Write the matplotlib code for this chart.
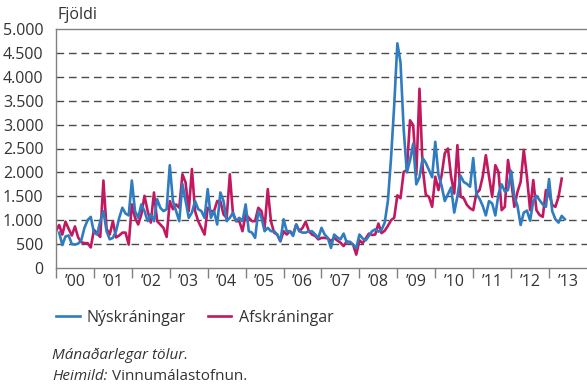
import numpy as np
import matplotlib.pyplot as plt

plt.rcParams['font.family'] = ['Open Sans', 'DejaVu Sans']

# Monthly counts. Afskráningar starts Jan 2000, Nýskráningar starts Feb 2000
afskraningar = [
    770, 900, 700, 970, 820, 680, 870, 640, 540, 520, 520, 430,          # 2000
    800, 720, 650, 1830, 820, 700, 980, 640, 680, 740, 740, 490,         # 2001
    1330, 1050, 910, 1120, 1510, 1190, 950, 1580, 980, 910, 840, 650,    # 2002
    1400, 1230, 1330, 1260, 1960, 1790, 1190, 2070, 1190, 980, 840, 700, # 2003
    1260, 1190, 1190, 1400, 1400, 1120, 1050, 1960, 1120, 980, 980, 770, # 2004
    1120, 1050, 980, 980, 1260, 1190, 840, 1650, 980, 740, 700, 560,     # 2005
    770, 700, 770, 700, 910, 770, 840, 970, 770, 700, 670, 600,          # 2006
    630, 630, 620, 560, 630, 575, 530, 460, 560, 530, 490, 280,          # 2007
    580, 520, 620, 720, 690, 700, 930, 730, 780, 880, 1000, 1050,        # 2008
    1520, 1460, 2010, 2050, 3090, 2990, 1950, 3750, 2100, 1530, 1490, 1280,  # 2009
    1910, 1630, 1940, 2400, 2500, 1910, 1560, 2570, 1490, 1460, 1320, 1250,  # 2010
    1210, 1560, 1630, 1910, 2360, 1910, 1490, 2150, 2010, 1210, 1280, 2260,  # 2011
    1840, 1280, 1590, 1800, 2470, 1910, 1210, 1840, 1210, 1110, 1070, 1630,  # 2012
    1560, 1320, 1280, 1490, 1870,                                        # 2013
]
nyskraningar = [
    740, 480, 660, 680, 500, 490, 510, 580, 840, 1000, 1070,             # 2000
    740, 700, 980, 1190, 770, 600, 630, 770, 1050, 1260, 1140, 1100,     # 2001
    1830, 1190, 1050, 1330, 1190, 980, 1120, 980, 1440, 1260, 1190, 1230,  # 2002
    2150, 1400, 1190, 980, 1760, 1400, 1050, 1160, 1400, 1230, 1190, 1050, # 2003
    1650, 1050, 1190, 910, 1580, 1400, 980, 1050, 1160, 980, 1050, 980,    # 2004
    1330, 770, 740, 630, 1190, 1050, 770, 840, 770, 770, 700, 560,         # 2005
    1020, 770, 770, 670, 910, 770, 740, 740, 770, 770, 700, 630,           # 2006
    840, 700, 630, 420, 700, 640, 600, 720, 530, 550, 490, 420,            # 2007
    700, 620, 580, 670, 770, 810, 760, 800, 950, 1400, 2300, 3400,         # 2008
    4700, 4300, 2900, 2000, 2250, 2600, 1750, 1900, 2300, 2200, 2050, 1900,  # 2009
    2640, 1950, 1720, 1400, 1545, 1685, 1160, 1500, 1930, 1800, 1760, 1700,  # 2010
    2300, 1550, 1450, 1300, 1100, 1400, 1350, 1100, 1550, 1750, 1600, 1630,  # 2011
    2030, 1500, 1300, 900, 1160, 1200, 990, 1400, 1510, 1420, 1330, 1280,    # 2012
    1860, 1190, 1020, 950, 1090, 1020,                                       # 2013
]
years = list(range(2000, 2014))
year_labels = ['\u2019' + str(y)[2:] for y in years]
yticks = list(range(0, 5001, 500))

x_afsk = 2000 + np.arange(len(afskraningar)) / 12
x_nysk = 2000 + (np.arange(len(nyskraningar)) + 1) / 12

BLUE = '#2f7cc0'
RED = '#c2185f'
GREY = '#808080'
TXT = '#333333'

fig = plt.figure(figsize=(5.87, 3.88), dpi=100)
ax = fig.add_axes([56/587, 1 - 268/388, 1 - 56/587, (268 - 29)/388])

# dashed grid
for v in yticks[1:-1]:
    ax.axhline(v, color='#4a4a4a', lw=1.0, ls=(0, (5.5, 3.5)), zorder=0)

l_red, = ax.plot(x_afsk, afskraningar, color=RED, lw=1.9, solid_joinstyle='round')
l_blue, = ax.plot(x_nysk, nyskraningar, color=BLUE, lw=1.9, solid_joinstyle='round')

ax.set_xlim(2000, 2014)
ax.set_ylim(0, 5000)

ax.set_yticks(yticks)
ax.set_yticklabels(['0' if v == 0 else f'{v:,}'.replace(',', '.') for v in yticks])
ax.tick_params(axis='y', length=0, pad=9, labelsize=11.5, colors=TXT)

ax.set_xticks(years)
ax.set_xticklabels([])
ax.set_xticks([y + 0.5 for y in years], minor=True)
ax.set_xticklabels(year_labels, minor=True)
ax.tick_params(axis='x', which='major', length=7, width=1, color=GREY, direction='out')
ax.tick_params(axis='x', which='minor', length=0, pad=4, labelsize=11.5, colors=TXT)

for side in ['left', 'bottom', 'top']:
    ax.spines[side].set_color(GREY)
    ax.spines[side].set_linewidth(1)
ax.spines['right'].set_visible(False)

fig.text(58/587, 1 - 15/388, 'Fjöldi', fontsize=11.5, color=TXT, va='center', ha='left')

fig.legend([l_blue, l_red], ['Nýskráningar', 'Afskráningar'],
           loc='center left', bbox_to_anchor=(42/587, 1 - 318/388), ncol=2,
           frameon=False, fontsize=11.5, handlelength=1.45, handletextpad=0.45,
           columnspacing=1.4, labelcolor=TXT)

fig.text(52/587, 1 - 355/388, 'Mánaðarlegar tölur.', fontsize=11, style='italic',
         color=TXT, va='center', ha='left')
t = fig.text(52/587, 1 - 377/388, 'Heimild:', fontsize=11, style='italic',
             color=TXT, va='center', ha='left')
ax.annotate(' Vinnumálastofnun.', xy=(1, 0), xycoords=t, va='bottom', ha='left',
            fontsize=11, color=TXT, annotation_clip=False)

fig.savefig('out.png', dpi=100)
